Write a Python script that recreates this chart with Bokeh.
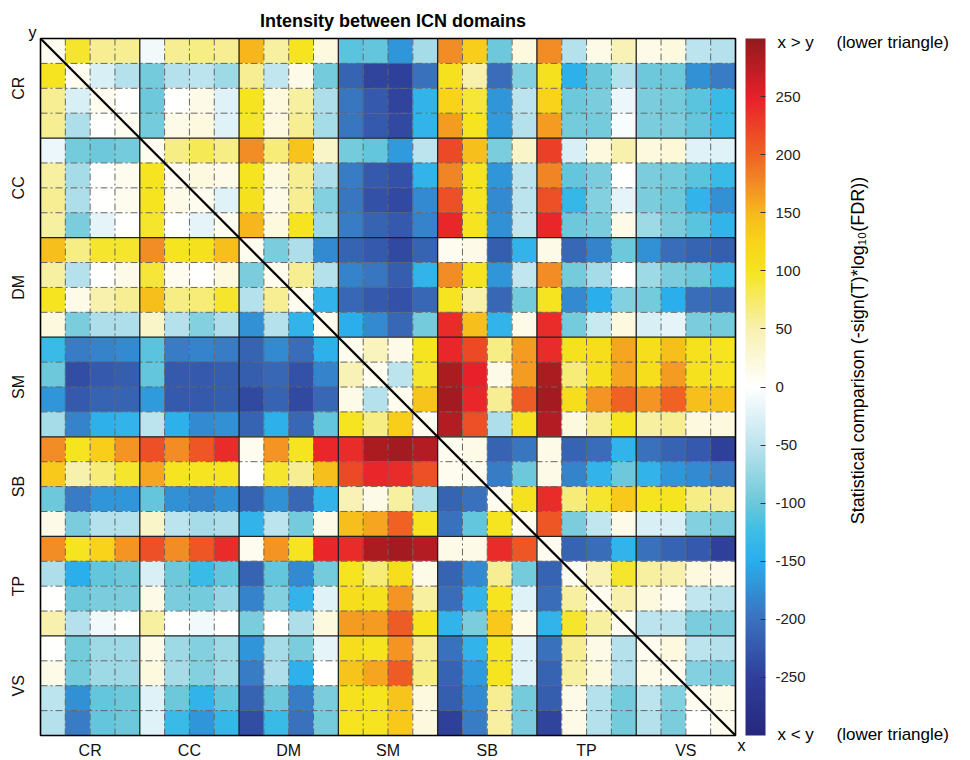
import numpy as np
from bokeh.plotting import figure
from bokeh.models import (LinearColorMapper, ColorBar, FixedTicker, Label, Range1d,
                          ColumnDataSource)
from bokeh.core.properties import value
from bokeh.transform import transform
from bokeh.embed import file_html
from bokeh.resources import INLINE

# ---------------- data ----------------
domains = ["CR", "CC", "DM", "SM", "SB", "TP", "VS"]
comps_per_domain = [4, 4, 4, 4, 4, 4, 4]

rows_CR = [
    [10, 95, 60, 60, -10, 60, 65, 60, 150, 55, 100, 20, -110, -105, -170, -65, 175, 130, -100, 20, 175, -55, 15, 45, 15, 20, -50, -55],
    [100, 10, -30, -55, -95, -55, -50, -70, 60, -45, 15, -95, -215, -245, -250, -200, 105, 50, -205, -85, 105, -145, -100, -55, -100, -100, -175, -190],
    [60, -30, 10, 0, -100, 0, 15, -25, 100, 20, 55, -60, -195, -225, -245, -140, 125, 90, -170, -50, 125, -100, -90, -15, -90, -95, -110, -130],
    [60, -60, 0, 10, -95, 15, 20, -25, 95, 20, 60, -65, -195, -225, -240, -140, 165, 100, -165, -55, 165, -95, -95, -5, -90, -90, -105, -125],
]
rows_CC = [
    [-15, -95, -100, -95, 10, 65, 80, 65, 175, 70, 140, 35, -95, -105, -165, -50, 220, 145, -90, 35, 225, -30, 20, 50, 20, 25, -25, -25],
    [55, -65, 0, 10, 100, 10, 20, 15, 100, 20, 60, -60, -190, -225, -230, -140, 180, 100, -170, -50, 180, -105, -90, 0, -90, -95, -110, -130],
    [60, -60, 0, 10, 100, 15, 10, -25, 105, 15, 60, -85, -195, -230, -240, -180, 215, 100, -180, -50, 215, -135, -85, -20, -90, -100, -140, -175],
    [55, -90, -20, 0, 95, 0, -20, 10, 150, 20, 100, -70, -190, -215, -225, -185, 245, 100, -175, -45, 245, -100, -90, 15, -70, -90, -110, -140],
]
rows_DM = [
    [145, 65, 95, 95, 175, 100, 105, 145, 10, -90, -60, -180, -215, -225, -240, -215, 10, 15, -220, -140, 15, -210, -185, -100, -175, -205, -215, -220],
    [55, -55, 0, 15, 90, 10, 0, 20, -90, 10, 60, -55, -185, -195, -220, -140, 175, 100, -170, -45, 175, -95, -65, 0, -70, -90, -100, -125],
    [100, 15, 50, 60, 145, 65, 70, 95, -55, 60, 10, -140, -210, -225, -230, -210, 100, 50, -210, -95, 100, -180, -150, -85, -95, -150, -205, -210],
    [20, -90, -60, -60, 35, -55, -85, -60, -175, -55, -140, 10, -150, -180, -210, -95, 240, 145, -140, 15, 240, -95, -40, 20, -30, -20, -90, -95],
]
rows_SM = [
    [-130, -190, -185, -180, -110, -190, -185, -190, -215, -180, -205, -145, 10, 40, 15, 100, 245, 220, 65, 165, 240, 105, 110, 160, 110, 145, 105, 100],
    [-100, -235, -225, -220, -105, -225, -225, -220, -220, -210, -230, -185, 45, 10, -50, 95, 285, 250, 15, 165, 285, 70, 105, 160, 110, 165, 105, 100],
    [-170, -225, -215, -215, -165, -225, -225, -220, -240, -215, -240, -210, 15, -55, 10, 140, 290, 245, 60, 205, 290, 110, 170, 200, 170, 200, 145, 140],
    [-65, -185, -145, -140, -50, -145, -180, -175, -215, -145, -210, -105, 100, 65, 130, 10, 280, 215, -60, 105, 280, 20, 60, 100, 55, 60, 20, 20],
]
rows_SB = [
    [175, 100, 130, 170, 215, 175, 210, 240, 10, 170, 100, 245, 240, 285, 290, 280, 10, 15, -215, -195, 15, -215, -205, -140, -200, -215, -225, -250],
    [135, 50, 70, 95, 160, 100, 100, 100, 0, 95, 60, 145, 220, 245, 240, 215, 10, 10, -190, -100, 15, -185, -140, -100, -140, -170, -180, -190],
    [-100, -190, -170, -170, -105, -175, -185, -175, -215, -175, -210, -140, 45, 15, 55, -60, -215, -200, 10, 105, 240, 70, 95, 135, 100, 100, 65, 60],
    [15, -90, -55, -55, 35, -50, -65, -60, -140, -50, -95, 15, 145, 160, 200, 100, -200, -105, 100, 10, 210, -90, -45, 15, -30, -30, -85, -90],
]
rows_TP = [
    [175, 100, 125, 170, 215, 175, 210, 240, 10, 170, 100, 245, 240, 285, 290, 280, 15, 15, 240, 210, 10, -215, -205, -140, -200, -215, -225, -250],
    [-60, -150, -105, -100, -30, -100, -130, -105, -215, -105, -180, -95, 100, 70, 110, 15, -215, -180, 60, -95, -215, 10, 45, 95, 55, 50, 20, 15],
    [0, -100, -90, -90, 15, -90, -95, -75, -185, -85, -140, -25, 110, 105, 170, 55, -205, -140, 100, -25, -205, 55, 10, 50, 20, 10, -45, -55],
    [50, -55, -10, 0, 55, 0, -10, 0, -90, 0, -60, 20, 165, 165, 205, 100, -140, -90, 135, 15, -140, 95, 55, 10, -50, -50, -90, -90],
]
rows_VS = [
    [0, -95, -70, -70, 15, -70, -85, -70, -170, -65, -90, -20, 110, 100, 170, 60, -200, -140, 100, -25, -200, 60, 15, -55, 10, 20, -50, -55],
    [15, -95, -70, -70, 20, -65, -85, -70, -190, -60, -145, 0, 140, 160, 205, 65, -215, -165, 100, -25, -215, 55, 20, -55, 15, 10, -85, -90],
    [-50, -175, -105, -100, -25, -100, -140, -105, -215, -100, -190, -90, 105, 100, 140, 20, -220, -180, 60, -95, -220, 15, -55, -95, -50, -85, 10, 15],
    [-55, -190, -105, -100, -25, -130, -170, -135, -235, -130, -200, -95, 100, 100, 135, 20, -250, -190, 55, -90, -245, 15, -55, -95, -55, -90, 0, 10],
]

cbar_ticks = [-250, -200, -150, -100, -50, 0, 50, 100, 150, 200, 250]
cbar_low, cbar_high = -300, 300

title_text = "Intensity between ICN domains"
cbar_title = "Statistical comparison (-sign(T)*log\u2081\u2080(FDR))"

# ---------------- layout / styling ----------------
FONT = "Liberation Sans"
W, H = 970, 760
ML, MT, MW, MH = 40, 38, 695, 697      # matrix box in px

anchor_vals = [-300, -250, -200, -150, -125, -100, -50, 0, 50, 100, 125, 150, 175, 200, 250, 300]
anchor_cols = ["#26287e", "#2f409b", "#3a72bd", "#2aaeec", "#3dbde6", "#6cc8da", "#bde4ee", "#ffffff",
               "#f8f1b0", "#f5e41f", "#f8d41a", "#f7b91b", "#f28c25", "#ef6424", "#e8202a", "#931a1e"]


def hex2rgb(h):
    return [int(h[i:i + 2], 16) for i in (1, 3, 5)]


rgb = np.array([hex2rgb(c) for c in anchor_cols], dtype=float)
grid_v = np.linspace(cbar_low, cbar_high, 256)
palette = []
for v in grid_v:
    r = np.interp(v, anchor_vals, rgb[:, 0])
    g = np.interp(v, anchor_vals, rgb[:, 1])
    b = np.interp(v, anchor_vals, rgb[:, 2])
    palette.append("#%02x%02x%02x" % (int(round(r)), int(round(g)), int(round(b))))

mapper = LinearColorMapper(palette=palette, low=cbar_low, high=cbar_high)

all_rows = rows_CR + rows_CC + rows_DM + rows_SM + rows_SB + rows_TP + rows_VS
N = len(all_rows)
SX, SY = MW / N, MH / N                 # px per cell
xs, ys, vals = [], [], []
for i, row in enumerate(all_rows):
    for j, v in enumerate(row):
        xs.append(j + 0.5)
        ys.append(i + 0.5)
        vals.append(v)
src = ColumnDataSource(dict(x=xs, y=ys, val=vals))

p = figure(width=W, height=H,
           x_range=Range1d(-ML / SX, (W - ML) / SX),
           y_range=Range1d((H - MT) / SY, -MT / SY),
           output_backend="svg", toolbar_location=None,
           x_axis_location=None, y_axis_location=None,
           min_border=0, min_border_left=0, min_border_right=0,
           min_border_top=0, min_border_bottom=0)
p.background_fill_color = "white"
p.border_fill_color = "white"
p.outline_line_color = None
p.grid.visible = False

p.rect(x="x", y="y", width=1, height=1, source=src,
       fill_color=transform("val", mapper), line_color=transform("val", mapper), line_width=0.5)

# grid lines: dash-dot inside domains, solid at domain boundaries
bounds = np.cumsum([0] + comps_per_domain)
inner = [k for k in range(1, N) if k not in bounds]
p.segment(x0=inner, y0=[0] * len(inner), x1=inner, y1=[N] * len(inner),
          line_color="#666666", line_width=1, line_dash="7 3 2 3")
p.segment(x0=[0] * len(inner), y0=inner, x1=[N] * len(inner), y1=inner,
          line_color="#666666", line_width=1, line_dash="7 3 2 3")
solid = [int(b) for b in bounds[1:-1]]
p.segment(x0=solid, y0=[0] * len(solid), x1=solid, y1=[N] * len(solid),
          line_color="#222222", line_width=1.3)
p.segment(x0=[0] * len(solid), y0=solid, x1=[N] * len(solid), y1=solid,
          line_color="#222222", line_width=1.3)
p.line(x=[0, N], y=[0, N], line_color="black", line_width=2.2)
p.rect(x=N / 2, y=N / 2, width=N, height=N, fill_color=None, line_color="black", line_width=1.6)

# domain labels
centers = [float((bounds[k] + bounds[k + 1]) / 2) for k in range(len(domains))]
p.text(x=centers, y=[N + 15 / SY] * len(domains), text=domains,
       text_font=value(FONT), text_font_size="16px", text_color="#111111",
       text_align="center", text_baseline="middle")
p.text(x=[-22 / SX] * len(domains), y=centers, text=domains, angle=np.pi / 2,
       text_font=value(FONT), text_font_size="16px", text_color="#111111",
       text_align="center", text_baseline="middle")

# colour bar
cb = ColorBar(color_mapper=mapper, width=20, height=MH,
              location=(ML + MW + 10, H - MT - MH), margin=0, padding=0,
              ticker=FixedTicker(ticks=cbar_ticks),
              major_label_overrides={t: str(t) for t in cbar_ticks},
              major_label_text_font=FONT, major_label_text_font_size="15px",
              major_label_text_color="#222222", label_standoff=10,
              major_tick_line_color="#333333", major_tick_in=5, major_tick_out=0,
              minor_tick_line_color=None, bar_line_color=None,
              border_line_color=None, background_fill_color=None)
p.add_layout(cb)


# texts
def lab(x, y, text, dx=0, dy=0, **kw):
    opts = dict(text_font=FONT, text_font_size="17px", text_align="left",
                text_baseline="middle", text_color="black")
    opts.update(kw)
    p.add_layout(Label(x=x, y=y, x_offset=dx, y_offset=dy, text=text, **opts))


lab(N / 2, 0, title_text, dx=5, dy=18, text_font_size="18px", text_font_style="bold",
    text_align="center")
lab(0, 0, "y", dx=-8, dy=6, text_font_size="16px", text_align="center")
lab(N, N, "x", dx=6, dy=-10, text_font_size="16px", text_align="center")
lab(N, 0, "x > y", dx=42, dy=-4)
lab(N, 0, "(lower triangle)", dx=101, dy=-4)
lab(N, N, "x < y", dx=42, dy=1)
lab(N, N, "(lower triangle)", dx=101, dy=1)
lab(N, N * (312 / MH), cbar_title, dx=122, angle=np.pi / 2, text_align="center",
    text_font_size="18px")

open("out.html", "w").write(file_html(p, INLINE))
